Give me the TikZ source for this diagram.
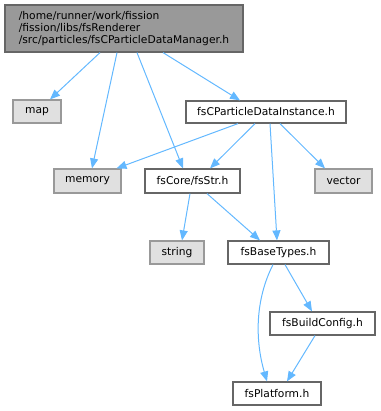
\documentclass[tikz,border=0pt]{standalone}
\usepackage{fontspec}
\setmainfont{DejaVu Sans}
\usetikzlibrary{arrows.meta}
\definecolor{edgec}{HTML}{63B8FF}
\tikzset{
  base/.style={draw, line width=1.2pt, inner sep=0pt, font=\fontsize{10.7}{12.3}\selectfont, anchor=center},
  filenode/.style={base, draw=black!60, fill=white},
  sysnode/.style={base, draw=black!40, fill=black!12},
  topnode/.style={base, draw=black!60, fill=black!40},
  dep/.style={draw=edgec, line width=1pt, -{Triangle[length=10pt,width=8pt]}},
}
\begin{document}
\begin{tikzpicture}[x=1pt,y=-1pt]
\useasboundingbox (0,0) rectangle (380,411);
\node[topnode, minimum width=238pt, minimum height=47pt, align=left] (top) at (124,28.5) {/home/runner/work/fission\\/fission/libs/fsRenderer\\/src/particles/fsCParticleDataManager.h};
\node[sysnode, minimum width=48pt, minimum height=23pt] (map) at (37,111.5) {map};
\node[filenode, minimum width=160pt, minimum height=22pt] (inst) at (266,112) {fsCParticleDataInstance.h};
\node[sysnode, minimum width=67pt, minimum height=24pt] (memory) at (87.5,181) {memory};
\node[filenode, minimum width=95pt, minimum height=24pt] (str) at (192.5,181) {fsCore/fsStr.h};
\node[sysnode, minimum width=57pt, minimum height=24pt] (vector) at (343.5,181) {vector};
\node[sysnode, minimum width=54pt, minimum height=23pt] (string) at (177,252.5) {string};
\node[filenode, minimum width=101pt, minimum height=23pt] (base) at (278.5,252.5) {fsBaseTypes.h};
\node[filenode, minimum width=105pt, minimum height=23pt] (build) at (322.5,323.5) {fsBuildConfig.h};
\node[filenode, minimum width=88pt, minimum height=23pt] (plat) at (277,393.5) {fsPlatform.h};

\draw[dep] ([xshift=-24pt]top.south) -- ([xshift=13pt]map.north);
\draw[dep] ([xshift=-7pt]top.south) -- ([xshift=4.5pt]memory.north);
\draw[dep] ([xshift=13pt]top.south) -- ([xshift=-9.5pt]str.north);
\draw[dep] ([xshift=39pt]top.south) -- ([xshift=-26pt]inst.north);
\draw[dep] ([xshift=-28pt]inst.south) -- ([xshift=29pt]memory.north);
\draw[dep] ([xshift=-11pt]inst.south) -- ([xshift=17.5pt]str.north);
\draw[dep] ([xshift=4pt]inst.south) -- ([xshift=-1.5pt]base.north);
\draw[dep] ([xshift=14pt]inst.south) -- ([xshift=-18.5pt]vector.north);
\draw[dep] ([xshift=-2.5pt]str.south) -- ([xshift=5pt]string.north);
\draw[dep] ([xshift=14.5pt]str.south) -- ([xshift=-18.5pt]base.north);
\draw[dep] ([xshift=-5.5pt]base.south) .. controls (255,300) and (255,340) .. ([xshift=-10pt]plat.north);
\draw[dep] ([xshift=6.5pt]base.south) -- ([xshift=-10.5pt]build.north);
\draw[dep] ([xshift=-7.5pt]build.south) -- ([xshift=10pt]plat.north);
\end{tikzpicture}
\end{document}
